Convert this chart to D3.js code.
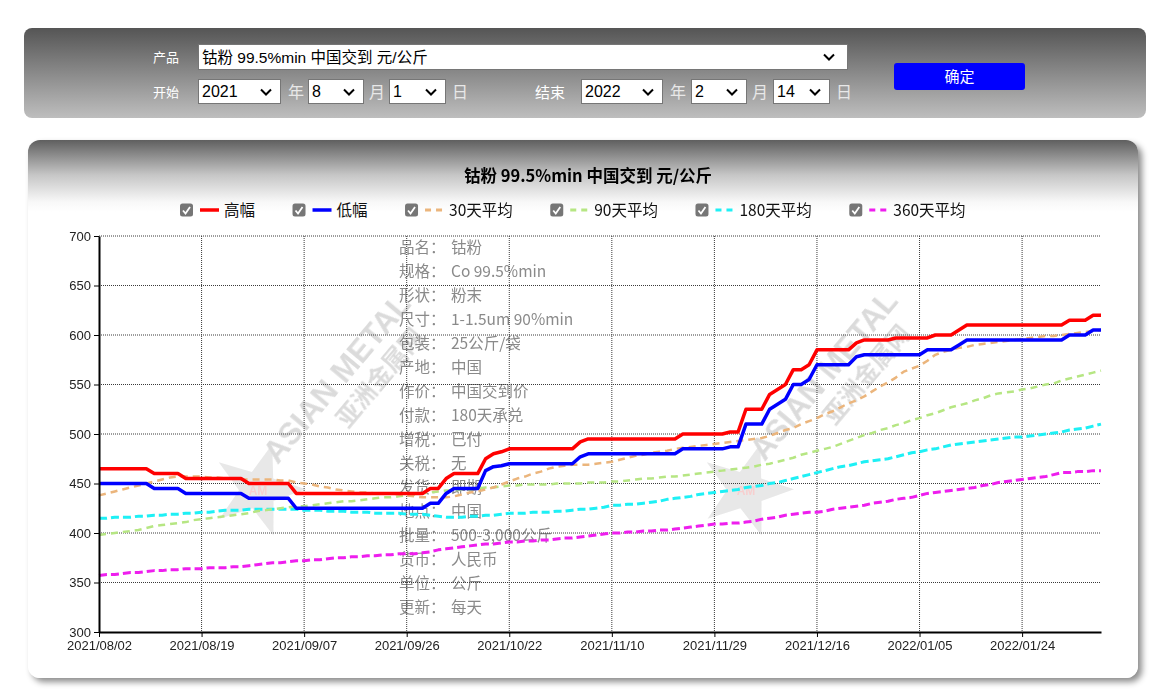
<!DOCTYPE html>
<html>
<head>
<meta charset="utf-8">
<script src="https://cdn.jsdelivr.net/npm/d3@7"></script>
<style>
body { margin: 0; width: 1158px; height: 689px; overflow: hidden; background: #fff; font-family: "Liberation Sans", "Noto Sans CJK SC", sans-serif; }
#form { position: absolute; left: 24px; top: 28px; width: 1122px; height: 90px; border-radius: 8px; background: linear-gradient(#555555, #bebebe); }
.lab { position: absolute; color: #fff; font-size: 13px; line-height: 26px; font-family: "Noto Sans CJK SC", sans-serif; }
.unit { position: absolute; color: #e8e8e8; font-size: 16px; line-height: 25px; font-family: "Noto Sans CJK SC", sans-serif; }
select { position: absolute; box-sizing: border-box; height: 25px; font-size: 16px; border: 1px solid #767676; color: #000; padding: 0 0 0 3px; border-radius: 0;
  font-family: "Liberation Sans", "Noto Sans CJK SC", sans-serif; -webkit-appearance: none; appearance: none;
  background: #fff url("data:image/svg+xml,%3Csvg xmlns='http://www.w3.org/2000/svg' width='12' height='8'%3E%3Cpath d='M1 1.5l5 5 5-5' stroke='%23000' stroke-width='2' fill='none'/%3E%3C/svg%3E") no-repeat right 8px center; }
#ok { position: absolute; left: 870px; top: 35px; width: 131px; height: 27px; border-radius: 3px; background: #0000ff; color: #fff; font-size: 15px; line-height: 26px; text-align: center; font-family: "Noto Sans CJK SC", sans-serif; }
#panel { position: absolute; left: 28px; top: 140px; width: 1110px; height: 538px; border-radius: 12px; background: linear-gradient(#5f5f5f 0px, #c6c6c6 35px, #f8f8f8 62px, #ffffff 72px); box-shadow: 4px 4px 6px rgba(0,0,0,0.45); }
#chart { position: absolute; left: 0; top: 0; }
</style>
</head>
<body>
<div id="form">
  <div class="lab" style="left:129px;top:16px">产品</div>
  <select style="left:174px;top:16px;width:650px;height:26px;font-size:15.5px;background-position:right 12px center"><option>钴粉 99.5%min 中国交到 元/公斤</option></select>
  <div class="lab" style="left:129px;top:51px">开始</div>
  <select style="left:174px;top:51px;width:83px"><option>2021</option></select>
  <div class="unit" style="left:264px;top:51px">年</div>
  <select style="left:284px;top:51px;width:56px"><option>8</option></select>
  <div class="unit" style="left:345px;top:51px">月</div>
  <select style="left:365px;top:51px;width:57px"><option>1</option></select>
  <div class="unit" style="left:428px;top:51px">日</div>
  <div class="lab" style="left:511px;top:51px;font-size:15px">结束</div>
  <select style="left:557px;top:51px;width:82px"><option>2022</option></select>
  <div class="unit" style="left:646px;top:51px">年</div>
  <select style="left:667px;top:51px;width:56px"><option>2</option></select>
  <div class="unit" style="left:728px;top:51px">月</div>
  <select style="left:749px;top:51px;width:57px"><option>14</option></select>
  <div class="unit" style="left:812px;top:51px">日</div>
  <div id="ok">确定</div>
</div>
<div id="panel"></div>
<svg id="chart"></svg>
<script>
// Trading days shown on the chart
const dates = ("2021/08/02 2021/08/03 2021/08/04 2021/08/05 2021/08/06 2021/08/09 2021/08/10 2021/08/11 2021/08/12 2021/08/13 " +
  "2021/08/16 2021/08/17 2021/08/18 2021/08/19 2021/08/20 2021/08/23 2021/08/24 2021/08/25 2021/08/26 2021/08/27 " +
  "2021/08/30 2021/08/31 2021/09/01 2021/09/02 2021/09/03 2021/09/06 2021/09/07 2021/09/08 2021/09/09 2021/09/10 " +
  "2021/09/13 2021/09/14 2021/09/15 2021/09/16 2021/09/17 2021/09/18 2021/09/22 2021/09/23 2021/09/24 2021/09/26 " +
  "2021/09/27 2021/09/28 2021/09/29 2021/09/30 2021/10/12 2021/10/13 2021/10/14 2021/10/15 2021/10/18 2021/10/19 " +
  "2021/10/20 2021/10/21 2021/10/22 2021/10/25 2021/10/26 2021/10/27 2021/10/28 2021/10/29 2021/11/01 2021/11/02 " +
  "2021/11/03 2021/11/04 2021/11/05 2021/11/08 2021/11/09 2021/11/10 2021/11/11 2021/11/12 2021/11/15 2021/11/16 " +
  "2021/11/17 2021/11/18 2021/11/19 2021/11/22 2021/11/23 2021/11/24 2021/11/25 2021/11/26 2021/11/29 2021/11/30 " +
  "2021/12/01 2021/12/02 2021/12/03 2021/12/06 2021/12/07 2021/12/08 2021/12/09 2021/12/10 2021/12/13 2021/12/14 " +
  "2021/12/15 2021/12/16 2021/12/17 2021/12/20 2021/12/21 2021/12/22 2021/12/23 2021/12/24 2021/12/27 2021/12/28 " +
  "2021/12/29 2021/12/30 2021/12/31 2022/01/04 2022/01/05 2022/01/06 2022/01/07 2022/01/10 2022/01/11 2022/01/12 " +
  "2022/01/13 2022/01/14 2022/01/17 2022/01/18 2022/01/19 2022/01/20 2022/01/21 2022/01/24 2022/01/25 2022/01/26 " +
  "2022/01/27 2022/01/28 2022/02/07 2022/02/08 2022/02/09 2022/02/10 2022/02/11 2022/02/14").split(" ");

const xTicks = ["2021/08/02", "2021/08/19", "2021/09/07", "2021/09/26", "2021/10/22",
  "2021/11/10", "2021/11/29", "2021/12/16", "2022/01/05", "2022/01/24"];
const yTicks = [300, 350, 400, 450, 500, 550, 600, 650, 700];

// 高幅
const high = [
  465, 465, 465, 465, 465, 465, 465, 460, 460, 460, 460, 455, 455,
  455, 455, 455, 455, 455, 455, 450, 450, 450, 450, 450, 450, 440,
  440, 440, 440, 440, 440, 440, 440, 440, 440, 440, 440, 440, 440,
  440, 440, 440, 445, 445, 455, 460, 460, 460, 460, 475, 480, 482,
  485, 485, 485, 485, 485, 485, 485, 485, 485, 492, 495, 495, 495,
  495, 495, 495, 495, 495, 495, 495, 495, 495, 500, 500, 500, 500,
  500, 500, 502, 502, 525, 525, 525, 540, 545, 550, 565, 565, 570,
  585, 585, 585, 585, 585, 592, 595, 595, 595, 595, 597, 597, 597,
  597, 597, 600, 600, 600, 605, 610, 610, 610, 610, 610, 610, 610,
  610, 610, 610, 610, 610, 610, 615, 615, 615, 620, 620
];
// 低幅
const low = [
  450, 450, 450, 450, 450, 450, 450, 445, 445, 445, 445, 440, 440,
  440, 440, 440, 440, 440, 440, 435, 435, 435, 435, 435, 435, 425,
  425, 425, 425, 425, 425, 425, 425, 425, 425, 425, 425, 425, 425,
  425, 425, 425, 430, 430, 440, 445, 445, 445, 445, 463, 467, 468,
  470, 470, 470, 470, 470, 470, 470, 470, 470, 477, 480, 480, 480,
  480, 480, 480, 480, 480, 480, 480, 480, 480, 485, 485, 485, 485,
  485, 485, 487, 487, 510, 510, 510, 525, 530, 535, 550, 550, 555,
  570, 570, 570, 570, 570, 578, 580, 580, 580, 580, 580, 580, 580,
  580, 585, 585, 585, 585, 590, 595, 595, 595, 595, 595, 595, 595,
  595, 595, 595, 595, 595, 595, 600, 600, 600, 605, 605
];
// 30天平均
const ma30 = [
  438, 440, 442, 444, 446, 448, 450, 452, 454, 456, 457, 457, 457,
  457, 456, 456, 455, 455, 454, 454, 454, 454, 454, 453, 453, 451,
  450, 449, 447, 446, 444, 443, 442, 441, 441, 440, 440, 440, 439,
  438, 437, 436, 436, 436, 436, 437, 439, 441, 442, 444, 446, 449,
  452, 455, 457, 460, 462, 465, 467, 468, 469, 469, 469, 470, 471,
  472, 474, 476, 478, 479, 481, 482, 483, 485, 486, 487, 488, 489,
  490, 491, 492, 493, 494, 495, 496, 498, 501, 504, 506, 510, 513,
  516, 520, 523, 527, 531, 534, 538, 543, 548, 552, 557, 563, 566,
  569, 574, 580, 583, 585, 587, 588, 590, 591, 592, 593, 594, 595,
  596, 597, 598, 599, 599, 600, 601, 602, 603, 604, 605
];
// 90天平均
const ma90 = [
  398, 399, 400, 401, 402, 403, 405, 407, 408, 409, 410, 411, 413,
  414, 415, 416, 417, 418, 419, 420, 422, 423, 424, 425, 426, 427,
  427, 428, 429, 430, 431, 432, 432, 433, 434, 435, 436, 436, 437,
  438, 439, 440, 441, 442, 443, 443, 444, 444, 445, 446, 446, 447,
  448, 448, 449, 449, 449, 449, 450, 450, 450, 450, 451, 451, 451,
  452, 452, 453, 454, 455, 455, 456, 457, 457, 458, 459, 460, 461,
  462, 463, 464, 465, 466, 467, 469, 470, 472, 474, 476, 479, 481,
  483, 485, 487, 490, 493, 496, 499, 501, 504, 506, 509, 511, 514,
  516, 519, 521, 524, 527, 529, 531, 534, 536, 539, 541, 542, 543,
  545, 546, 548, 550, 551, 554, 556, 558, 560, 562, 564
];
// 180天平均
const ma180 = [
  415, 415, 416, 416, 416, 417, 417, 418, 418, 419, 419, 420, 420,
  421, 421, 422, 423, 423, 423, 424, 424, 424, 424, 424, 424, 424,
  423, 423, 423, 422, 422, 422, 421, 421, 421, 420, 420, 420, 420,
  419, 419, 419, 418, 417, 416, 416, 416, 417, 417, 418, 418, 419,
  420, 420, 420, 421, 421, 421, 422, 422, 423, 424, 424, 425, 426,
  428, 428, 429, 429, 430, 431, 432, 434, 435, 436, 437, 439, 440,
  441, 442, 443, 444, 446, 447, 448, 450, 451, 453, 455, 457, 459,
  461, 463, 465, 467, 468, 470, 472, 473, 474, 475, 477, 479, 481,
  482, 484, 485, 487, 489, 490, 491, 492, 493, 494, 495, 496, 497,
  497, 498, 499, 500, 501, 502, 504, 505, 506, 508, 510
];
// 360天平均
const ma360 = [
  357, 358, 358, 359, 360, 360, 361, 362, 362, 363, 363, 364, 364,
  364, 365, 365, 365, 366, 366, 367, 368, 369, 370, 370, 371, 372,
  372, 373, 373, 374, 375, 375, 376, 376, 377, 377, 378, 378, 379,
  379, 379, 380, 381, 383, 384, 385, 386, 387, 388, 389, 389, 390,
  391, 391, 392, 392, 393, 393, 394, 395, 395, 396, 397, 398, 399,
  400, 400, 401, 401, 402, 402, 403, 403, 404, 405, 406, 407, 408,
  409, 409, 410, 410, 411, 412, 414, 415, 416, 418, 419, 420, 421,
  421, 422, 424, 425, 426, 427, 428, 430, 431, 432, 434, 435, 436,
  438, 440, 441, 442, 443, 444, 445, 446, 448, 449, 451, 452, 453,
  454, 455, 456, 457, 459, 461, 461, 462, 462, 463, 463
];

// product info block
const infoLabels = ["品名：", "规格：", "形状：", "尺寸：", "包装：", "产地：", "作价：", "付款：",
  "增税：", "关税：", "发货：", "地点：", "批量：", "货币：", "单位：", "更新："];
const infoValues = ["钴粉", "Co 99.5%min", "粉末", "1-1.5um 90%min", "25公斤/袋", "中国", "中国交到价", "180天承兑",
  "已付", "无", "即期", "中国", "500-3,000公斤", "人民币", "公斤", "每天"];

const series = [
  { name: "高幅", values: high, color: "#ff0000", width: 3.5, dash: null },
  { name: "低幅", values: low, color: "#0000ff", width: 3.5, dash: null },
  { name: "30天平均", values: ma30, color: "#ebb57c", width: 2.5, dash: "7,5" },
  { name: "90天平均", values: ma90, color: "#b6e683", width: 2.5, dash: "7,5" },
  { name: "180天平均", values: ma180, color: "#1ef0f5", width: 3, dash: "8,4" },
  { name: "360天平均", values: ma360, color: "#ee1eee", width: 3, dash: "8,4" }
];

const margin = { top: 236, left: 99 },
    width = 1002,
    height = 396;

const svg = d3.select("#chart").attr("width", 1158).attr("height", 689);

// Title
svg.append("text")
    .attr("x", 588).attr("y", 182)
    .attr("text-anchor", "middle")
    .style("font", "bold 16.5px 'Noto Sans CJK SC', sans-serif")
    .attr("fill", "#000")
    .text("钴粉 99.5%min 中国交到 元/公斤");

// Legend
const legend = svg.append("g").attr("transform", "translate(180,210)");
let lx = 0;
series.forEach(s => {
    const item = legend.append("g").attr("transform", `translate(${lx},0)`);
    item.append("rect").attr("x", 0).attr("y", -6.5).attr("width", 13).attr("height", 13)
        .attr("rx", 2.5).attr("fill", "#767676");
    item.append("path").attr("d", "M3,0.5 L5.5,3.5 L10,-3")
        .attr("fill", "none").attr("stroke", "#fff").attr("stroke-width", 1.8);
    item.append("line").attr("x1", 20).attr("x2", 39).attr("y1", 0).attr("y2", 0)
        .attr("stroke", s.color).attr("stroke-width", s.dash ? 3 : 3.5)
        .attr("stroke-dasharray", s.dash ? "6,5" : null);
    const t = item.append("text").attr("x", 44).attr("y", 5.5)
        .style("font", "15.5px 'Noto Sans CJK SC', sans-serif").attr("fill", "#111")
        .text(s.name);
    lx += 44 + t.node().getComputedTextLength() + 37.5;
});

const g = svg.append("g").attr("transform", `translate(${margin.left},${margin.top})`);
const gridLayer = g.append("g");
const markLayer = svg.append("g");
const plotLayer = g.append("g");
markLayer.lower();
gridLayer.lower();

const x = d3.scalePoint().domain(dates).range([0, width]);
const y = d3.scaleLinear().domain([300, 700]).range([height, 0]);

// Dotted grid
gridLayer.append("g").selectAll("line").data(yTicks.slice(1)).join("line")
    .attr("x1", 0).attr("x2", width)
    .attr("y1", d => y(d)).attr("y2", d => y(d))
    .attr("stroke", "#3a3a3a").attr("stroke-dasharray", "1,1");
gridLayer.append("g").selectAll("line").data(xTicks.slice(1)).join("line")
    .attr("x1", d => x(d)).attr("x2", d => x(d))
    .attr("y1", 0).attr("y2", height)
    .attr("stroke", "#3a3a3a").attr("stroke-dasharray", "1,1");

// Watermarks (under the lines)
function watermark(tx, ty, sx, sy) {
    const w = markLayer.append("g").attr("opacity", 0.6);
    const star = d3.range(10).map(k => {
        const r = k % 2 ? 19 : 48, a = -Math.PI / 2 + 0.3 + k * Math.PI / 5;
        return [sx + r * Math.cos(a), sy + r * Math.sin(a)];
    });
    w.append("polygon").attr("points", star.map(p => p.join(",")).join(" ")).attr("fill", "#d9d9d9");
    w.append("text").attr("x", sx).attr("y", sy + 5).attr("text-anchor", "middle")
        .style("font", "bold 12px 'Liberation Sans', sans-serif").attr("fill", "#f2b0b0")
        .text("AM");
    const t = w.append("g").attr("transform", `translate(${tx},${ty}) rotate(-50)`);
    t.append("text").attr("text-anchor", "middle")
        .style("font", "bold 31px 'Liberation Sans', sans-serif").attr("fill", "#c4c4c4")
        .text("ASIAN METAL");
    t.append("text").attr("x", 28).attr("y", 30).attr("text-anchor", "middle")
        .style("font", "bold 24px 'Noto Sans CJK SC', sans-serif").attr("fill", "#c4c4c4")
        .text("亚洲金属网");
}
watermark(345, 385, 258, 490);
watermark(832, 382, 746, 490);

// Product info text
const info = markLayer.append("g").style("font", "15.5px 'Noto Sans CJK SC', sans-serif").attr("fill", "#8a8a8a");
info.selectAll("text.l").data(infoLabels).join("text").attr("class", "l")
    .attr("x", 399).attr("y", (d, i) => 253 + i * 24).text(d => d);
info.selectAll("text.v").data(infoValues).join("text").attr("class", "v")
    .attr("x", 451).attr("y", (d, i) => 253 + i * 24).text(d => d);

// Axes
g.append("g")
    .call(d3.axisLeft(y).tickValues(yTicks).tickSize(5).tickSizeOuter(0).tickPadding(3))
    .call(a => a.select(".domain").attr("stroke", "#000").attr("stroke-width", 2))
    .call(a => a.selectAll("text").style("font", "13px 'Liberation Sans', sans-serif").attr("fill", "#222"));

g.append("g")
    .attr("transform", `translate(0,${height})`)
    .call(d3.axisBottom(x).tickValues(xTicks).tickSize(5).tickSizeOuter(0).tickPadding(4))
    .call(a => a.select(".domain").attr("stroke", "#000").attr("stroke-width", 2))
    .call(a => a.selectAll("text").style("font", "13px 'Liberation Sans', sans-serif").attr("fill", "#222"));

// Series lines: averages first, then low and high on top
const line = d3.line().x((d, i) => x(dates[i])).y(d => y(d));
series.slice().reverse().forEach(s => {
    plotLayer.append("path")
        .datum(s.values)
        .attr("d", line)
        .attr("fill", "none")
        .attr("stroke", s.color)
        .attr("stroke-width", s.width)
        .attr("stroke-linejoin", "round")
        .attr("stroke-dasharray", s.dash);
});
</script>
</body>
</html>
